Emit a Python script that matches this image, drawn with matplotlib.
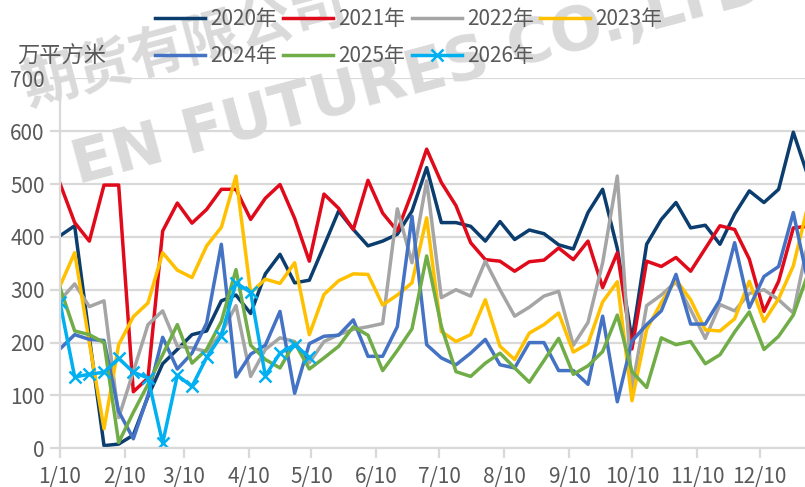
import matplotlib
matplotlib.use('Agg')
import matplotlib.pyplot as plt
import pandas as pd

# Fonts: CJK family first so that 年 / 万平方米 render
plt.rcParams['font.family'] = ['Noto Sans CJK SC', 'DejaVu Sans']

TEXT_COLOR = '#595959'
GRID_COLOR = '#D9D9D9'
MARK_COLOR = '#DADADA'

SERIES_NAMES = ['2020年', '2021年', '2022年', '2023年', '2024年', '2025年', '2026年']
SERIES_COLORS = ['#0B3D6E', '#E00A1B', '#A5A5A5', '#FFC000', '#4472C4', '#70AD47', '#00B0F0']

# weekly observations starting 1/10
FIRST_WEEK = '2021-01-10'
TICK_MONTHS = list(range(1, 13))
TICK_LABELS = ['1/10', '2/10', '3/10', '4/10', '5/10', '6/10',
               '7/10', '8/10', '9/10', '10/10', '11/10', '12/10']

# 万平方米
Y2020 = [402, 421, 210, 5, 8, 25, 98, 160, 187, 215, 222, 279, 290, 255, 330, 367, 313, 318,
         383, 449, 414, 383, 392, 405, 449, 531, 427, 427, 420, 392, 429, 395, 413, 406, 385,
         377, 446, 490, 378, 205, 386, 433, 465, 417, 422, 386, 443, 487, 465, 490, 598, 515]
Y2021 = [501, 427, 392, 498, 498, 107, 133, 411, 464, 426, 452, 490, 490, 433, 473, 499, 435,
         354, 481, 454, 414, 507, 445, 411, 484, 566, 503, 459, 389, 357, 354, 335, 353, 356,
         379, 357, 392, 304, 370, 188, 354, 344, 361, 335, 378, 421, 414, 358, 259, 316, 417, 420]
Y2022 = [280, 311, 268, 279, 58, 145, 234, 260, 193, 190, 183, 218, 270, 136, 187, 209, 202,
         162, 202, 215, 225, 230, 236, 453, 351, 506, 285, 300, 288, 354, 300, 250, 267, 288,
         297, 195, 238, 351, 515, 112, 270, 290, 315, 262, 208, 272, 260, 293, 300, 281, 256, 390]
Y2023 = [307, 370, 200, 37, 196, 249, 275, 370, 337, 323, 383, 418, 515, 294, 320, 312, 351,
         215, 291, 317, 330, 329, 271, 290, 313, 436, 221, 202, 215, 281, 193, 168, 218, 234,
         256, 182, 198, 277, 315, 90, 225, 276, 319, 281, 224, 222, 245, 316, 240, 283, 345, 460]
Y2024 = [188, 215, 206, 204, 70, 18, 100, 210, 150, 180, 237, 386, 135, 178, 195, 259, 104,
         198, 212, 214, 243, 174, 174, 230, 439, 196, 171, 158, 180, 206, 158, 152, 200, 200,
         147, 147, 121, 250, 88, 203, 234, 260, 329, 235, 235, 281, 389, 266, 325, 344, 446, 315]
Y2025 = [304, 222, 215, 200, 11, 68, 121, 177, 234, 161, 187, 240, 338, 195, 168, 152, 200,
         150, 171, 193, 230, 214, 147, 185, 226, 364, 231, 145, 136, 161, 180, 152, 125, 166,
         208, 140, 156, 183, 252, 145, 115, 209, 196, 202, 160, 177, 220, 258, 187, 212, 252, 330]
Y2026 = [276, 135, 140, 144, 170, 144, 133, 10, 138, 117, 172, 213, 313, 295, 137, 180, 196, 172]

ALL_SERIES = [Y2020, Y2021, Y2022, Y2023, Y2024, Y2025, Y2026]

fig = plt.figure(figsize=(8.05, 4.87), dpi=100)
ax = fig.add_axes([60 / 805, 38.7 / 487, 745 / 805, 370 / 487])
ax.patch.set_alpha(0)

# watermark, kept behind the axes
fig.text(0.52, 0.845, 'EN FUTURES CO.,LTD', fontsize=44, fontweight='bold',
         color=MARK_COLOR, rotation=15, ha='center', va='center',
         rotation_mode='anchor', family='DejaVu Sans', zorder=-1)
fig.text(0.23, 0.905, '期货有限公司', fontsize=40, fontweight='bold',
         color=MARK_COLOR, rotation=15, ha='center', va='center',
         rotation_mode='anchor', zorder=-1)

lines = []
for name, color, values in zip(SERIES_NAMES, SERIES_COLORS, ALL_SERIES):
    weeks = pd.date_range(FIRST_WEEK, periods=len(values), freq='7D')
    if name == '2026年':
        ln, = ax.plot(weeks, values, color=color, lw=2.5, marker='x',
                      markersize=8, markeredgewidth=1.8, label=name)
    else:
        ln, = ax.plot(weeks, values, color=color, lw=2.5, label=name)
    lines.append(ln)

ax.set_xlim(pd.Timestamp('2021-01-10'), pd.Timestamp('2021-12-31 14:00'))
ax.set_ylim(0, 700)
ax.set_yticks(range(0, 701, 100))

ticks = [pd.Timestamp(2021, m, 10) for m in TICK_MONTHS]
ax.set_xticks(ticks)
ax.set_xticklabels(TICK_LABELS)

ax.grid(axis='y', color=GRID_COLOR, lw=1.6)
ax.set_axisbelow(True)
for side in ['top', 'right']:
    ax.spines[side].set_visible(False)
for side in ['left', 'bottom']:
    ax.spines[side].set_color(GRID_COLOR)
    ax.spines[side].set_linewidth(1.6)

ax.tick_params(axis='both', colors=GRID_COLOR, labelcolor=TEXT_COLOR,
               labelsize=15, width=1.6, length=7)
ax.tick_params(axis='x', pad=6)
ax.tick_params(axis='y', pad=4)

fig.text(17 / 805, 1 - 56 / 487, '万平方米', fontsize=16, color=TEXT_COLOR,
         ha='left', va='center')

# two legend rows: 2020-2023 on top, 2024-2026 below
order = [0, 4, 1, 5, 2, 6, 3]
leg = fig.legend([lines[i] for i in order], [SERIES_NAMES[i] for i in order],
                 ncol=4, loc='upper left', bbox_to_anchor=(155 / 805, 0.984),
                 frameon=False, fontsize=15, handlelength=2.4, handletextpad=0.25,
                 columnspacing=0.3, labelspacing=0.75, borderpad=0, borderaxespad=0)
for t in leg.get_texts():
    t.set_color(TEXT_COLOR)

plt.savefig('out.png', dpi=100)
